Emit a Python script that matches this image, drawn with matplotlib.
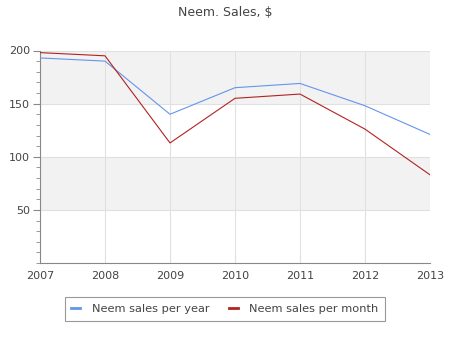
import matplotlib
matplotlib.use("Agg")
import matplotlib.pyplot as plt
from matplotlib.ticker import MultipleLocator

# ── Data ──────────────────────────────────────────────────────────────────────
years = [2007, 2008, 2009, 2010, 2011, 2012, 2013]
per_year = [193, 190, 140, 165, 169, 148, 121]
per_month = [198, 195, 113, 155, 159, 126, 83]

TEXT = "#444444"
GRID = "#e0e0e0"
BAND = "#f2f2f2"

fig = plt.figure(figsize=(4.5, 3.5), dpi=100, facecolor="white")
ax = fig.add_axes([40 / 450, 87 / 350, 390 / 450, 212.5 / 350])

# alternating horizontal bands
for lo in (50, 150):
    ax.axhspan(lo, lo + 50, color=BAND, lw=0, zorder=0)

ax.plot(years, per_year, color="#6495ed", lw=0.8, label="Neem sales per year", zorder=3)
ax.plot(years, per_month, color="#b22222", lw=0.8, label="Neem sales per month", zorder=3)

ax.set_xlim(2007, 2013)
ax.set_ylim(0, 200)
ax.set_xticks(years)
ax.set_xticklabels([str(y) for y in years])
ax.yaxis.set_major_locator(MultipleLocator(50))
ax.yaxis.set_minor_locator(MultipleLocator(10))
ax.set_yticks([50, 100, 150, 200])

ax.grid(True, which="major", color=GRID, lw=0.8, zorder=1)
ax.set_axisbelow(True)

for side in ("top", "right"):
    ax.spines[side].set_visible(False)
for side in ("left", "bottom"):
    ax.spines[side].set_color("#888888")
    ax.spines[side].set_linewidth(0.8)

ax.tick_params(axis="y", which="major", length=5, color="#888888",
               labelcolor=TEXT, labelsize=8, pad=2)
ax.tick_params(axis="y", which="minor", length=3, color="#888888")
ax.tick_params(axis="x", which="major", length=0, labelcolor=TEXT,
               labelsize=8, pad=6)

fig.text(0.5, 1 - 12 / 350, "Neem. Sales, $", ha="center", va="center",
         color=TEXT, fontsize=9)

leg = fig.legend(loc="center", bbox_to_anchor=(225 / 450, 1 - 309 / 350),
                 ncol=2, fontsize=8.2, frameon=True, fancybox=False,
                 handlelength=0.8, handletextpad=1.0, columnspacing=1.7,
                 borderpad=0.6, borderaxespad=0.0, labelcolor=TEXT)
leg.get_frame().set_edgecolor("#808080")
leg.get_frame().set_linewidth(0.8)
for h in leg.get_lines():
    h.set_linewidth(2.0)

fig.savefig("out.png", dpi=100, facecolor="white")
